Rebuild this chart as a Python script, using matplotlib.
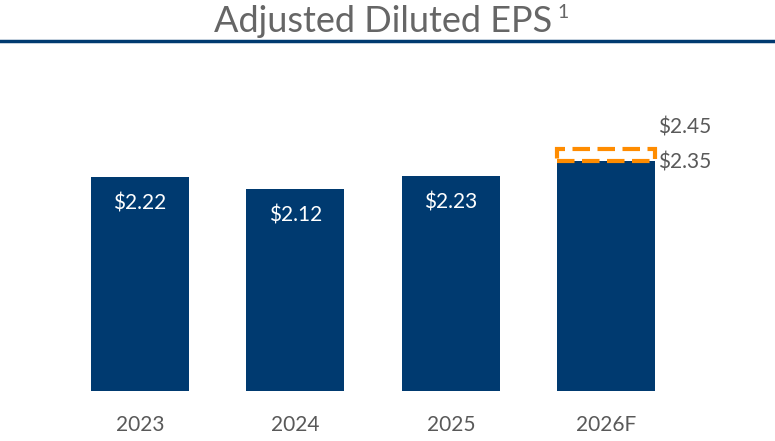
import matplotlib.pyplot as plt
from matplotlib.lines import Line2D

# --- data
years = ['2023', '2024', '2025', '2026F']
eps = [2.22, 2.12, 2.23, 2.35]
guide_low = 2.35
guide_high = 2.45

navy = '#003A70'
orange = '#FF8C00'
grey = '#595959'

plt.rcParams['font.family'] = ['Lato', 'DejaVu Sans']

fig = plt.figure(figsize=(7.75, 4.41), dpi=100)
ax = fig.add_axes([40 / 775, 50 / 441, 700 / 775, 291 / 441])

x = list(range(len(years)))
bars = ax.bar(x, eps, width=0.63, color=navy)

# forecast range box
ax.bar(x[-1], guide_high - guide_low, bottom=guide_low, width=0.63,
       fill=False, edgecolor=orange, linewidth=3, linestyle=(0, (4.2, 1.8)))

for xi, v in zip(x[:-1], eps[:-1]):
    ax.annotate(f'${v:.2f}', (xi, v), xytext=(0, -19), textcoords='offset points',
                ha='center', va='center', color='white', fontsize=15)

ax.annotate(f'${guide_low:.2f}', (x[-1] + 0.315, guide_low), xytext=(2, -1),
            textcoords='offset points', ha='left', va='center', color=grey, fontsize=15)
ax.annotate(f'${guide_high:.2f}', (x[-1] + 0.315, guide_high), xytext=(2, 16),
            textcoords='offset points', ha='left', va='center', color=grey, fontsize=15)

ax.set_xlim(-0.643, 3.859)
ax.set_ylim(0.437, 2.862)
ax.set_xticks(x)
ax.set_xticklabels(years, color=grey, fontsize=15)
ax.tick_params(axis='x', length=0, pad=17)
ax.set_yticks([])
for s in ax.spines.values():
    s.set_visible(False)

fig.text(0.5 - 4 / 775, 1 - 21 / 441, 'Adjusted Diluted EPS', ha='center', va='center',
         color='#666666', fontsize=26)
fig.text(557 / 775, 1 - 13 / 441, '1', ha='left', va='center', color='#666666', fontsize=14)
fig.add_artist(Line2D([0, 1], [1 - 40.5 / 441] * 2, color=navy, linewidth=2.5,
                      transform=fig.transFigure))

fig.savefig('out.png', dpi=100)
